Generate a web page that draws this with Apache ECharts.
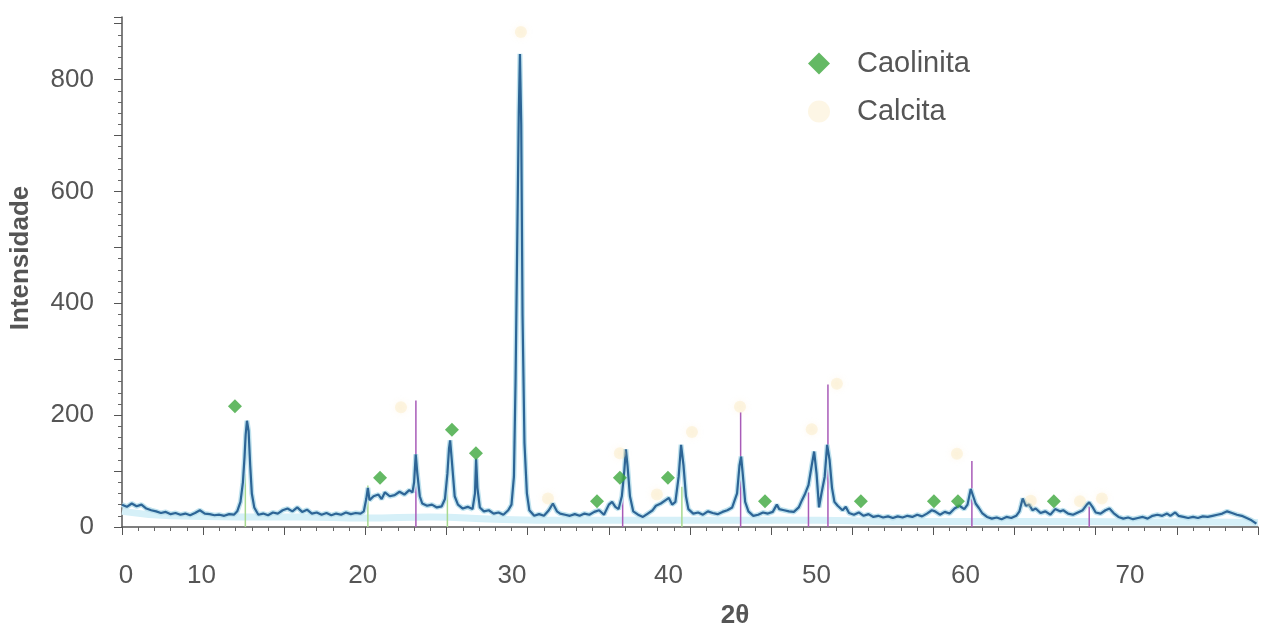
<!DOCTYPE html>
<html><head><meta charset="utf-8">
<script src="https://cdn.jsdelivr.net/npm/echarts@6/dist/echarts.min.js"></script>
<style>html,body{margin:0;padding:0;background:#fff}#c{width:1271px;height:634px}</style>
</head><body><div id="c"></div>
<script>
// ---- data ----
// diffractogram profile: [2theta, intensity]
const profilePoints = [
[5.0,40],[5.3,36],[5.6,42],[5.9,37],[6.2,40],[6.5,33],[6.8,30],[7.1,28],[7.4,25],[7.7,27],
[8.0,23],[8.3,25],[8.6,22],[8.9,24],[9.2,21],[9.5,25],[9.8,30],[10.1,24],[10.4,23],[10.7,21],
[11.0,22],[11.3,20],[11.6,23],[11.9,22],[12.1,28],[12.3,45],[12.45,80],[12.55,125],[12.62,165],[12.7,190],
[12.8,172],[12.9,110],[13.0,60],[13.15,35],[13.4,22],[13.7,24],[14.0,21],[14.3,26],[14.6,24],[14.9,30],
[15.2,33],[15.5,28],[15.8,35],[16.1,27],[16.4,31],[16.7,24],[17.0,26],[17.3,22],[17.6,25],[17.9,21],
[18.2,24],[18.5,22],[18.8,26],[19.1,23],[19.4,25],[19.7,24],[19.9,28],[20.05,50],[20.15,70],[20.25,48],
[20.5,55],[20.8,58],[21.0,50],[21.2,62],[21.5,55],[21.8,57],[22.1,63],[22.4,58],[22.7,66],[22.9,62],
[23.0,80],[23.1,130],[23.2,95],[23.35,55],[23.5,42],[23.8,38],[24.1,40],[24.4,35],[24.7,37],[24.9,50],
[25.05,95],[25.15,140],[25.22,155],[25.32,120],[25.5,55],[25.7,40],[26.0,33],[26.3,36],[26.6,32],[26.75,60],
[26.82,122],[26.9,70],[27.05,35],[27.3,28],[27.6,30],[27.9,24],[28.2,26],[28.5,22],[28.8,30],[29.0,40],
[29.15,90],[29.25,260],[29.35,500],[29.45,740],[29.52,846],[29.6,720],[29.68,380],[29.8,150],[29.95,60],[30.1,30],
[30.4,20],[30.7,23],[31.0,20],[31.3,30],[31.55,42],[31.8,28],[32.0,24],[32.3,22],[32.6,20],[32.9,23],
[33.2,20],[33.5,24],[33.8,22],[34.1,27],[34.4,30],[34.7,22],[35.0,40],[35.2,45],[35.4,36],[35.6,32],
[35.8,55],[35.95,100],[36.05,139],[36.15,110],[36.3,55],[36.5,28],[36.8,22],[37.1,18],[37.4,24],[37.7,30],
[37.9,38],[38.2,42],[38.5,48],[38.7,52],[38.9,40],[39.1,45],[39.3,90],[39.45,147],[39.6,110],[39.75,55],
[39.9,32],[40.2,24],[40.5,26],[40.8,22],[41.1,28],[41.4,25],[41.7,23],[42.0,27],[42.3,30],[42.6,35],
[42.9,60],[43.05,110],[43.15,126],[43.25,95],[43.4,45],[43.6,28],[43.9,20],[44.2,22],[44.5,26],[44.8,24],
[45.1,27],[45.35,40],[45.5,32],[45.8,30],[46.1,28],[46.4,27],[46.7,35],[46.9,48],[47.1,60],[47.3,75],
[47.5,110],[47.65,135],[47.8,95],[47.95,35],[48.1,60],[48.3,90],[48.45,147],[48.6,120],[48.75,70],[48.9,45],
[49.1,38],[49.4,30],[49.6,36],[49.8,25],[50.1,22],[50.4,26],[50.7,20],[51.0,23],[51.3,18],[51.6,20],
[51.9,17],[52.2,19],[52.5,16],[52.8,19],[53.1,17],[53.4,20],[53.7,18],[54.0,22],[54.3,19],[54.6,24],
[54.9,30],[55.1,28],[55.4,22],[55.7,27],[56.0,24],[56.3,33],[56.6,38],[56.9,32],[57.1,40],[57.3,68],
[57.45,55],[57.6,42],[57.8,34],[58.0,25],[58.3,18],[58.6,15],[58.9,17],[59.2,14],[59.5,18],[59.8,16],
[60.1,20],[60.3,28],[60.5,51],[60.7,38],[60.9,40],[61.1,30],[61.3,33],[61.6,25],[61.9,28],[62.2,22],
[62.5,32],[62.8,28],[63.0,30],[63.3,24],[63.6,22],[63.9,26],[64.2,30],[64.45,40],[64.6,44],[64.8,36],
[65.0,26],[65.3,24],[65.6,30],[65.85,33],[66.1,25],[66.4,18],[66.7,15],[67.0,17],[67.3,14],[67.6,16],
[67.9,18],[68.2,15],[68.5,20],[68.8,22],[69.1,20],[69.4,24],[69.6,20],[69.9,26],[70.1,20],[70.4,18],
[70.7,16],[71.0,18],[71.3,16],[71.6,19],[71.9,18],[72.2,20],[72.5,22],[72.8,24],[73.1,28],[73.4,25],
[73.7,22],[74.0,20],[74.3,16],[74.6,12],[74.9,6]
];
// background band under the trace
const bandTheta = [5,8,12,16,20,24,28,32,36,40,44,48,52,56,60,64,68,72,75];
const bandInt   = [28,20,18,18,16,18,14,12,12,12,12,12,10,10,10,10,9,9,8];
// reference sticks
const purpleStickTheta = [23.11,35.85,43.12,47.3,48.5,57.37,64.6];
const purpleStickInt   = [226,62,205,62,255,118,44];
const greenStickTheta  = [12.6,20.15,25.05,39.5];
const greenStickInt    = [95,74,80,72];
// phase markers
const caolinitaTheta = [11.96,20.90,25.33,26.81,34.27,35.68,38.64,44.62,50.53,55.03,56.51,62.42];
const caolinitaInt   = [216,88,174,132,46,88,88,46,46,46,46,46];
const calcitaTheta = [22.19,29.58,31.25,35.68,37.96,40.12,43.08,47.5,49.05,56.45,61.0,64.03,65.38];
const calcitaInt   = [214,885,51,132,58,170,215,175,256,131,47,46,51];
// tick labels (as printed on the reference) and where they sit on the 2θ scale
const xTickLabels = ['0','10','20','30','40','50','60','70'];
const xTickLabelPos = [5.25,9.9,19.83,29.03,38.68,47.79,56.98,67.11];
const yTickLabels = [0,200,400,600,800];

// ---- chart ----
const FONT = '"Liberation Sans", Arial, sans-serif';
const zip = (a,b) => a.map((v,i)=>[v,b[i]]);
const chart = echarts.init(document.getElementById('c'), null, {renderer:'canvas'});
const option = {
  animation:false,
  backgroundColor:'#ffffff',
  grid:{left:122,right:13,top:17,bottom:97},
  legend:{
    orient:'vertical', left:803, top:44, itemWidth:22, itemHeight:22, itemGap:19,
    textStyle:{fontSize:29, lineHeight:22, color:'#555555', fontFamily:FONT, padding:[0,0,0,22]},
    data:[{name:'Caolinita', icon:'diamond'},{name:'Calcita', icon:'circle'}]
  },
  xAxis:{
    type:'value', min:5, max:75, interval:5,
    axisLine:{lineStyle:{color:'#555555', width:1.5}},
    axisTick:{length:8, lineStyle:{color:'#555555'}},
    minorTick:{show:true, splitNumber:5, length:4, lineStyle:{color:'#666666'}},
    splitLine:{show:false},
    axisLabel:{
      customValues:xTickLabelPos,
      formatter:(v)=>{const i=xTickLabelPos.indexOf(v);return i>=0?xTickLabels[i]:'';},
      fontSize:26, color:'#555555', fontFamily:FONT, margin:36
    },
    name:'2θ', nameLocation:'middle', nameGap:76,
    nameTextStyle:{fontWeight:'bold', fontSize:26, color:'#555555', fontFamily:FONT, padding:[0,0,0,90]}
  },
  yAxis:{
    type:'value', min:0, max:912, interval:100,
    axisLine:{show:true, lineStyle:{color:'#555555', width:1.5}},
    axisTick:{show:true, length:8, lineStyle:{color:'#555555'}},
    minorTick:{show:true, splitNumber:5, length:4, lineStyle:{color:'#666666'}},
    splitLine:{show:false},
    axisLabel:{
      formatter:(v)=> yTickLabels.indexOf(v)>=0 ? String(v) : '',
      fontSize:26, color:'#555555', fontFamily:FONT, margin:28
    },
    name:'Intensidade', nameLocation:'middle', nameGap:88,
    nameTextStyle:{fontWeight:'bold', fontSize:26, color:'#555555', fontFamily:FONT, padding:[0,0,0,28]}
  },
  series:[
    {name:'fundo', type:'line', data:zip(bandTheta,bandInt), showSymbol:false, smooth:true,
     lineStyle:{color:'#d6f0f8', width:7}, z:1, silent:true},
    {name:'halo', type:'line', data:profilePoints, showSymbol:false,
     lineStyle:{color:'#bfe2ee', width:5}, z:2, silent:true},
    {name:'ref1', type:'bar', data:zip(purpleStickTheta,purpleStickInt), barWidth:1.5, barGap:'-100%',
     itemStyle:{color:'#a85bb8'}, z:2, silent:true},
    {name:'ref2', type:'bar', data:zip(greenStickTheta,greenStickInt), barWidth:1.5, barGap:'-100%',
     itemStyle:{color:'#a7d98f'}, z:2, silent:true},
    {name:'DRX', type:'line', data:profilePoints, showSymbol:false,
     lineStyle:{color:'#2d6596', width:2.2}, z:3},
    {name:'Caolinita', type:'scatter', data:zip(caolinitaTheta,caolinitaInt), symbol:'diamond', symbolSize:14,
     itemStyle:{color:'#3da83d'}, z:5},
    {name:'Calcita', type:'scatter', data:zip(calcitaTheta,calcitaInt), symbol:'circle', symbolSize:12,
     itemStyle:{color:'rgba(248,222,160,0.35)', shadowBlur:6, shadowColor:'rgba(248,222,160,0.6)'}, z:4}
  ]
};
chart.setOption(option);
</script>
</body></html>
